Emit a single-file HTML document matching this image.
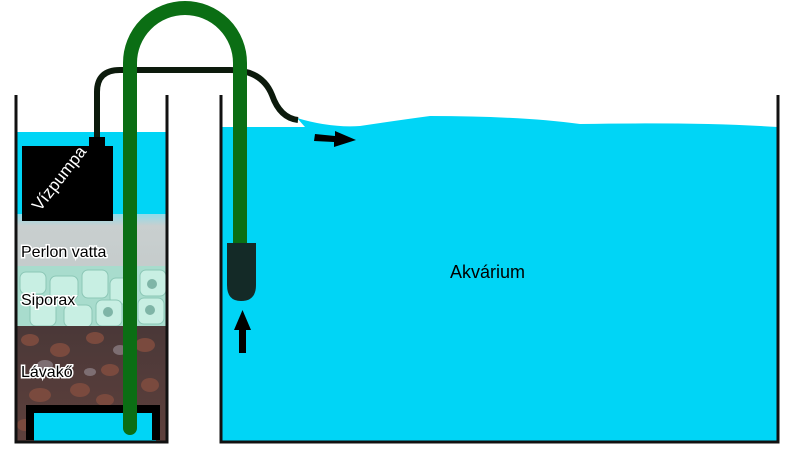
<!DOCTYPE html>
<html><head><meta charset="utf-8"><style>
html,body{margin:0;padding:0;background:#fff;}
svg{display:block;}
text{font-family:"Liberation Sans","DejaVu Sans",sans-serif;}
</style></head><body>
<svg width="795" height="461" viewBox="0 0 795 461" xmlns="http://www.w3.org/2000/svg">
<defs>
<linearGradient id="perl" x1="0" y1="0" x2="0" y2="1">
<stop offset="0" stop-color="#8fdcea"/><stop offset="0.2" stop-color="#c9cfcf"/><stop offset="1" stop-color="#c4cbcb"/>
</linearGradient>
<linearGradient id="lava" x1="0" y1="0" x2="0" y2="1">
<stop offset="0" stop-color="#4a3838"/><stop offset="1" stop-color="#5e403c"/>
</linearGradient>
</defs>
<path d="M221 127 H305 L297 118 Q330 128 360 126 Q400 120 430 116 Q520 116 580 124 Q700 122 778 127 L778 442 L221 442 Z" fill="#00d5f6"/>
<rect x="16" y="132" width="151" height="310" fill="#00d5f6"/>
<rect x="16" y="214" width="151" height="60" fill="url(#perl)"/>
<rect x="16" y="266" width="151" height="62" fill="#a8dccd"/>
<g fill="#c8efe3" stroke="#8cc7b6" stroke-width="1">
<rect x="20" y="272" width="26" height="22" rx="6"/><rect x="50" y="276" width="28" height="24" rx="6"/>
<rect x="82" y="270" width="26" height="28" rx="6"/><rect x="110" y="278" width="24" height="26" rx="6"/>
<rect x="140" y="270" width="26" height="26" rx="6"/><rect x="30" y="300" width="26" height="26" rx="6"/>
<rect x="64" y="305" width="28" height="22" rx="6"/><rect x="96" y="300" width="26" height="26" rx="6"/>
<rect x="138" y="298" width="26" height="26" rx="6"/>
</g>
<g fill="#7fb5a7"><circle cx="152" cy="284" r="5"/><circle cx="108" cy="312" r="5"/><circle cx="150" cy="310" r="5"/></g>
<rect x="16" y="326" width="151" height="116" fill="url(#lava)"/>
<g fill="#7a4a3e">
<ellipse cx="30" cy="340" rx="9" ry="6"/><ellipse cx="60" cy="350" rx="10" ry="7"/><ellipse cx="95" cy="338" rx="9" ry="6"/>
<ellipse cx="145" cy="345" rx="10" ry="7"/><ellipse cx="40" cy="395" rx="11" ry="7"/><ellipse cx="80" cy="390" rx="10" ry="7"/>
<ellipse cx="110" cy="370" rx="9" ry="6"/><ellipse cx="150" cy="385" rx="9" ry="7"/><ellipse cx="70" cy="415" rx="10" ry="6"/>
<ellipse cx="105" cy="400" rx="9" ry="6"/><ellipse cx="140" cy="420" rx="9" ry="6"/><ellipse cx="25" cy="425" rx="8" ry="6"/>
</g>
<g fill="#7d6e72"><ellipse cx="45" cy="365" rx="8" ry="5"/><ellipse cx="120" cy="350" rx="7" ry="5"/><ellipse cx="90" cy="372" rx="6" ry="4"/></g>
<rect x="34" y="412" width="122" height="30" fill="#00d5f6"/>
<path d="M30 440 V409 H156 V440" fill="none" stroke="#000" stroke-width="8"/>
<path d="M16 95 V442 H167 V95" fill="none" stroke="#111" stroke-width="3"/>
<path d="M221 95 V442 H778 V95" fill="none" stroke="#111" stroke-width="3"/>
<path d="M97 140 V92 Q97 70 120 70 H230 Q262 70 272 95 Q280 118 298 120" fill="none" stroke="#0c1a0c" stroke-width="6"/>
<rect x="89" y="137" width="16" height="10" fill="#000"/>
<rect x="22" y="146" width="91" height="75" fill="#000"/>
<text x="0" y="0" fill="#fff" font-size="17" transform="translate(40 212) rotate(-52)">Vízpumpa</text>
<path d="M130 428 V63 A55 55 0 0 1 240 63 V245" fill="none" stroke="#0b6e14" stroke-width="14" stroke-linecap="round"/>
<path d="M227 243 H256 V285 Q256 301 241 301 Q227 301 227 285 Z" fill="#142a27"/>
<path d="M239 353 V330 H234 L242.5 310 L251 330 H246 V353 Z" fill="#000"/>
<path d="M315 134 L335 136 L335 131 L356 140 L334 147 L334 142 L314 141 Z" fill="#000"/>
<g font-size="16" fill="#000" stroke="#fff" stroke-width="3" paint-order="stroke">
<text x="21" y="257">Perlon vatta</text>
<text x="21" y="305">Siporax</text>
<text x="21" y="377">Lávakő</text>
</g>
<text x="450" y="278" font-size="18" fill="#000">Akvárium</text>
</svg>
</body></html>
